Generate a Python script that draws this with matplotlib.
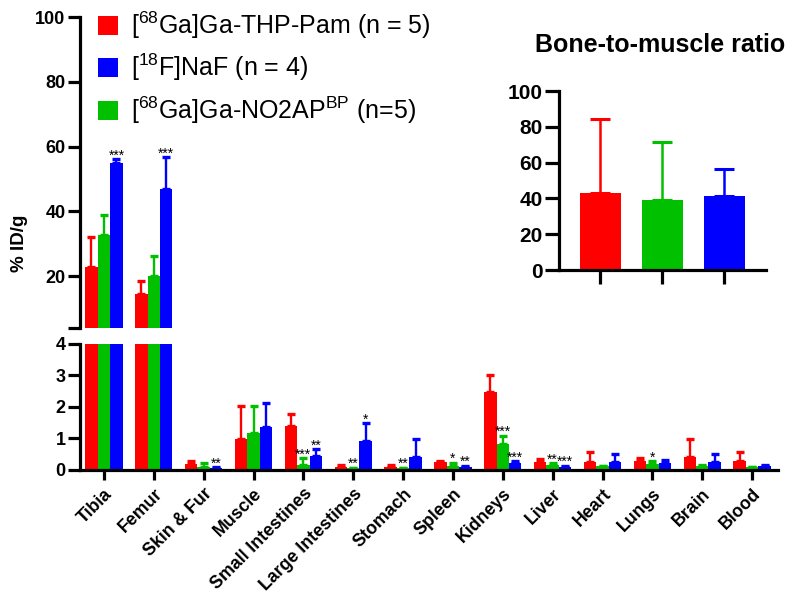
import matplotlib
matplotlib.use("Agg")
import matplotlib.pyplot as plt
from matplotlib.patches import Patch
import numpy as np

plt.rcParams['font.family'] = ['Liberation Sans', 'DejaVu Sans']
plt.rcParams['mathtext.fontset'] = 'custom'
plt.rcParams['mathtext.rm'] = 'Liberation Sans'
plt.rcParams['mathtext.it'] = 'Liberation Sans:italic'
plt.rcParams['mathtext.bf'] = 'Liberation Sans:bold'

categories = ['Tibia', 'Femur', 'Skin & Fur', 'Muscle', 'Small Intestines', 'Large Intestines',
              'Stomach', 'Spleen', 'Kidneys', 'Liver', 'Heart', 'Lungs', 'Brain', 'Blood']

thp_mean = [22.7, 14.4, 0.20, 0.98, 1.40, 0.10, 0.10, 0.25, 2.47, 0.25, 0.26, 0.30, 0.40, 0.27]
thp_err = [9.4, 4.1, 0.08, 1.05, 0.39, 0.07, 0.07, 0.04, 0.53, 0.09, 0.30, 0.09, 0.58, 0.29]
no2ap_mean = [32.8, 20.1, 0.10, 1.18, 0.16, 0.05, 0.05, 0.14, 0.84, 0.15, 0.12, 0.19, 0.12, 0.08]
no2ap_err = [6.2, 6.1, 0.11, 0.85, 0.21, 0.02, 0.02, 0.09, 0.25, 0.06, 0.02, 0.08, 0.04, 0.02]
naf_mean = [54.9, 47.0, 0.07, 1.37, 0.45, 0.92, 0.40, 0.10, 0.23, 0.10, 0.24, 0.23, 0.24, 0.13]
naf_err = [1.3, 9.7, 0.03, 0.76, 0.21, 0.56, 0.58, 0.04, 0.04, 0.04, 0.26, 0.09, 0.26, 0.04]

thp_sig = [''] * 14
no2ap_sig = ['', '', '', '', '***', '**', '**', '*', '***', '**', '', '*', '', '']
naf_sig = ['***', '***', '**', '', '**', '*', '', '**', '***', '***', '', '', '', '']

labels = [r'[$^{68}$Ga]Ga-THP-Pam (n = 5)', r'[$^{18}$F]NaF (n = 4)',
          r'[$^{68}$Ga]Ga-NO2AP$^{\mathrm{BP}}$ (n=5)']

ratio_mean = [42.8, 39.1, 41.5]
ratio_err = [41.7, 32.4, 14.9]

RED, GREEN, BLUE = '#FF0000', '#00C000', '#0000FF'

series = [(thp_mean, thp_err, thp_sig, RED, -0.25),
          (no2ap_mean, no2ap_err, no2ap_sig, GREEN, 0.0),
          (naf_mean, naf_err, naf_sig, BLUE, 0.25)]

fig = plt.figure(figsize=(8, 6.01), dpi=100)
ax_top = fig.add_axes([0.1, 0.4542, 0.8725, 0.5175])
ax_bot = fig.add_axes([0.1, 0.218, 0.8725, 0.2097])

x = np.arange(len(categories))
W = 0.25
LW = 2.3

for ax, lo, hi in [(ax_top, 4, 100), (ax_bot, 0, 4)]:
    for mean, err, sig, col, off in series:
        ax.bar(x + off, mean, width=W, color=col, edgecolor='none', zorder=2)
        ax.errorbar(x + off, mean, yerr=[np.zeros(len(err)), err], fmt='none',
                    ecolor=col, elinewidth=1.7, capsize=3, capthick=2.4, zorder=2)
        for xi, m, e, s in zip(x + off, mean, err, sig):
            top = m + e
            if s and lo <= top < hi:
                ax.annotate(s, (xi, top), xytext=(0, -2.5), textcoords='offset points',
                            ha='center', va='bottom', fontsize=10, zorder=3)
    ax.set_xlim(-0.48, 13.52)
    ax.set_ylim(lo, hi)
    for sp in ['top', 'right']:
        ax.spines[sp].set_visible(False)
    ax.spines['left'].set_linewidth(LW)
    ax.spines['bottom'].set_linewidth(LW)
    ax.tick_params(width=LW, length=8.5, pad=2)

ax_top.spines['bottom'].set_visible(False)
ax_top.set_xticks([])
ax_top.set_yticks([4, 20, 40, 60, 80, 100])
ax_top.set_yticklabels(['', '20', '40', '60', '80', '100'], fontweight='bold', fontsize=13)

ax_bot.set_yticks([0, 1, 2, 3, 4])
ax_bot.set_yticklabels(['0', '1', '2', '3', '4'], fontweight='bold', fontsize=13)
ax_bot.set_xticks(x)
ax_bot.set_xticklabels(categories, rotation=45, ha='right', rotation_mode='anchor',
                       fontweight='bold', fontsize=12.8)
ax_bot.tick_params(axis='x', length=7, pad=4)

fig.text(19 / 800, 1 - 243 / 601, '% ID/g', rotation=90, ha='center', va='center',
         fontsize=13.5, fontweight='bold')

handles = [Patch(facecolor=RED), Patch(facecolor=BLUE), Patch(facecolor=GREEN)]
fig.legend(handles, labels, loc='upper left', bbox_to_anchor=(0.1, 1.013), frameon=False,
           fontsize=18, handlelength=0.8, handleheight=0.8, handletextpad=0.55,
           labelspacing=0.44, borderaxespad=0.3)

# inset
ax_in = fig.add_axes([0.699, 0.5507, 0.259, 0.2978])
cols = [RED, GREEN, BLUE]
xi = np.arange(3)
ax_in.bar(xi, ratio_mean, width=0.66, color=cols, edgecolor='none')
for k in range(3):
    ax_in.errorbar(xi[k], ratio_mean[k], yerr=[[0], [ratio_err[k]]], fmt='none',
                   ecolor=cols[k], elinewidth=1.8, capsize=7, capthick=2.2)
ax_in.set_xlim(-0.66, 2.68)
ax_in.set_ylim(0, 100)
ax_in.set_yticks([0, 20, 40, 60, 80, 100])
ax_in.set_yticklabels(['0', '20', '40', '60', '80', '100'], fontweight='bold', fontsize=15)
ax_in.set_xticks(xi)
ax_in.set_xticklabels([])
for sp in ['top', 'right']:
    ax_in.spines[sp].set_visible(False)
ax_in.spines['left'].set_linewidth(LW)
ax_in.spines['bottom'].set_linewidth(LW)
ax_in.tick_params(width=LW, length=10, pad=2)
fig.text(660 / 800, 1 - 45 / 601, 'Bone-to-muscle ratio', ha='center', va='center',
         fontsize=18, fontweight='bold')

fig.savefig('out.png', dpi=100)
